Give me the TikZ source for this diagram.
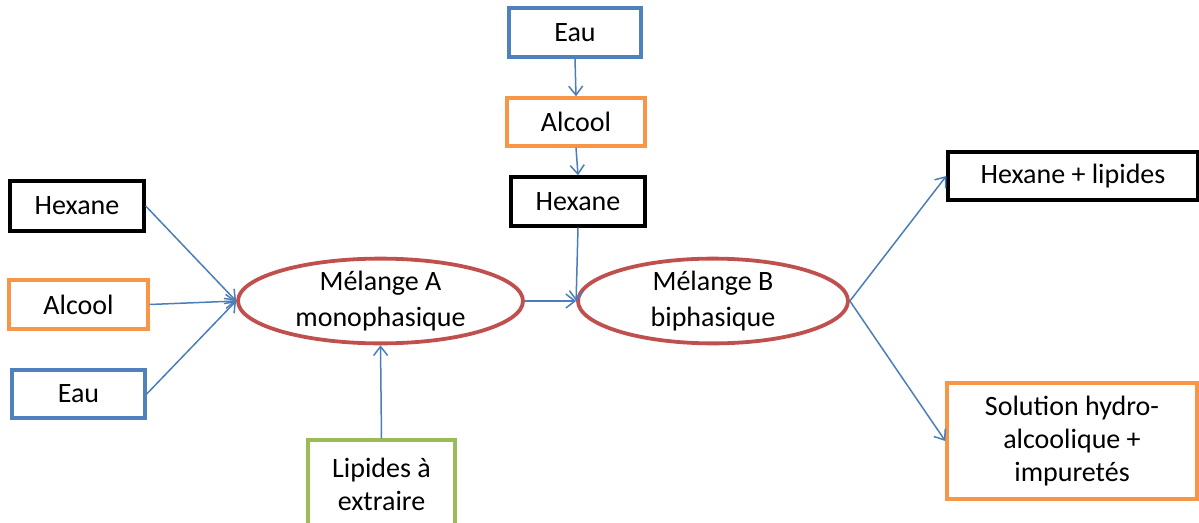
\documentclass[tikz,border=0pt]{standalone}
\usepackage{fontspec}
\setmainfont{Carlito}
\usetikzlibrary{shapes.geometric,arrows.meta}
\definecolor{cblue}{HTML}{4F81BD}
\definecolor{corange}{HTML}{F79646}
\definecolor{cgreen}{HTML}{9BBB59}
\definecolor{cred}{HTML}{C0504D}
\definecolor{carrow}{HTML}{4A7EBB}
\begin{document}
\begin{tikzpicture}[x=1pt,y=-1pt,
  box/.style={draw,rectangle,line width=3.4pt,inner sep=0pt,align=center,
    font=\fontsize{28}{33}\selectfont},
  mix/.style={draw=cred,ellipse,line width=3.8pt,inner sep=0pt,align=center,
    minimum height=77pt,font=\fontsize{28}{36}\selectfont},
  flow/.style={draw=carrow,line width=1.5pt,-{Straight Barb[length=9pt,width=14pt,line width=1.5pt]}}]
\useasboundingbox (0,0) rectangle (1199,522);
\clip (0,0) rectangle (1199,522);
% left inputs
\node[box,draw=black,minimum width=134pt,minimum height=50pt] (hexL) at (77,206) {Hexane};
\node[box,draw=corange,minimum width=139pt,minimum height=49pt] (alcL) at (78.5,304.5) {Alcool};
\node[box,draw=cblue,minimum width=133pt,minimum height=48pt] (eauL) at (78.5,394) {Eau};
% top column
\node[box,draw=cblue,minimum width=132pt,minimum height=49pt] (eauT) at (575,32.5) {Eau};
\node[box,draw=corange,minimum width=138pt,minimum height=48pt] (alcT) at (576,122) {Alcool};
\node[box,draw=black,minimum width=134pt,minimum height=49pt] (hexT) at (578,201.5) {Hexane};
% mixtures
\node[mix,minimum width=285pt] (A) at (380.5,301) {Mélange A\\monophasique};
\node[mix,minimum width=270pt] (B) at (713,301) {Mélange B\\biphasique};
% lipids
\node[box,draw=cgreen,minimum width=147pt,minimum height=88pt] (lip) at (381.5,484) {Lipides à\\extraire};
% outputs
\node[box,draw=black,minimum width=250pt,minimum height=48pt] (hexR) at (1073,176) {Hexane + lipides};
\node[box,draw=corange,minimum width=250pt,minimum height=116pt] (sol) at (1072,441) {Solution hydro-\\alcoolique +\\impuretés};
% connectors
\draw[flow] (hexL.east) -- (A.west);
\draw[flow] (alcL.east) -- (A.west);
\draw[flow] (eauL.east) -- (A.west);
\draw[flow] (eauT.south) -- (alcT.north);
\draw[flow] (alcT.south) -- (hexT.north);
\draw[flow] (hexT.south) -- (B.west);
\draw[flow] (A.east) -- (B.west);
\draw[flow] (lip.north) -- (A.south);
\draw[flow] (B.east) -- (hexR.west);
\draw[flow] (B.east) -- (sol.west);
\end{tikzpicture}
\end{document}
